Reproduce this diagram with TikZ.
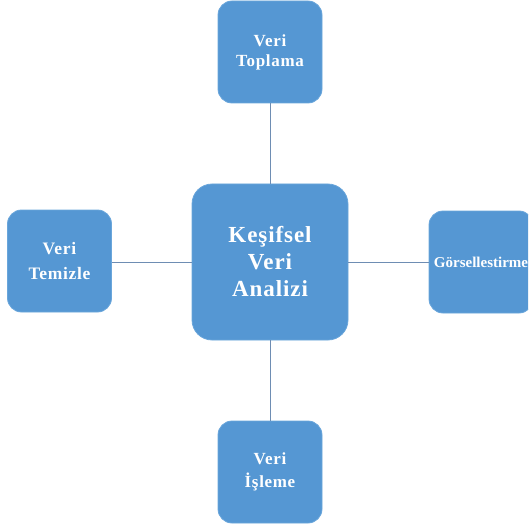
\documentclass[tikz,border=0pt]{standalone}
\usepackage{fontspec}
\setmainfont{Liberation Serif}
\definecolor{boxblue}{HTML}{5597D3}
\definecolor{boxedge}{HTML}{6AA6DB}
\definecolor{linkgray}{HTML}{6E8DB3}
\tikzset{
  topic/.style={draw=boxedge, line width=0.8pt, fill=boxblue, rounded corners=14pt,
    minimum width=104pt, minimum height=102pt, inner sep=0pt,
    text=white, align=center},
  hub/.style={topic, rounded corners=20pt, minimum width=156pt, minimum height=156pt},
  link/.style={draw=linkgray, line width=0.9pt}
}
\begin{document}
\begin{tikzpicture}[x=1pt,y=-1pt]
  \useasboundingbox (0,0) rectangle (528,529);
  \clip (0,0) rectangle (528,529);
  % central topic
  \node[hub, font=\bfseries\fontsize{23}{27}\selectfont\addfontfeature{LetterSpace=4}]
    (eda) at (270,262) {Keşifsel\\Veri\\Analizi};
  % surrounding steps
  \node[topic, font=\bfseries\fontsize{17}{20}\selectfont\addfontfeature{LetterSpace=4}]
    (collect) at (270,52) {Veri\\Toplama};
  \node[topic, font=\bfseries\fontsize{17.5}{25}\selectfont\addfontfeature{LetterSpace=4}]
    (clean) at (59.5,261) {Veri\\Temizle};
  \node[topic, font=\bfseries\fontsize{17}{23}\selectfont\addfontfeature{LetterSpace=4}]
    (process) at (270,472) {Veri\\İşleme};
  \node[topic, font=\bfseries\fontsize{15}{18}\selectfont]
    (visual) at (481,262) {Görsellestirme};
  % connectors
  \draw[link] (eda) -- (collect);
  \draw[link] (eda) -- (process);
  \draw[link] (eda.west) -- (clean.east |- eda.west);
  \draw[link] (eda.east) -- (visual.west |- eda.east);
\end{tikzpicture}
\end{document}
